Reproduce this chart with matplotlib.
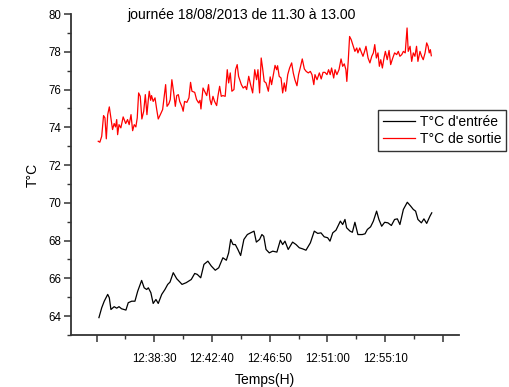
import matplotlib
matplotlib.use("Agg")
import matplotlib.pyplot as plt
from matplotlib.ticker import FixedLocator, MultipleLocator

plt.rcParams["font.family"] = ["Liberation Sans", "DejaVu Sans"]

# time origin of the axis (first major tick), seconds after it for each sample
T0 = "12:34:20"

# T°C d'entrée (black)
t_in = [10, 22, 33, 48, 55, 62, 76, 87, 97, 108, 127, 137, 152, 166, 178, 195,
        206, 217, 224, 235, 245, 257, 267, 282, 296, 308, 318, 332, 347, 361,
        370, 388, 410, 425, 436, 451, 465, 482, 497, 514, 529, 547, 562, 572,
        581, 591, 601, 612, 624, 638, 653, 667, 682, 692, 706, 716, 724, 734,
        748, 763, 781, 796, 806, 816, 830, 849, 864, 878, 893, 907, 926, 943,
        958, 972, 986, 1001, 1011, 1023, 1037, 1056, 1066, 1076, 1083, 1098,
        1108, 1119, 1132, 1151, 1163, 1173, 1187, 1199, 1213, 1223, 1235, 1248,
        1262, 1277, 1291, 1303, 1314, 1329, 1346, 1361, 1372, 1382, 1392, 1407,
        1418, 1430, 1444, 1452]
temp_in = [63.92, 64.44, 64.79, 65.15, 64.97, 64.35, 64.50, 64.42, 64.50, 64.39,
           64.32, 64.71, 64.79, 64.79, 65.32, 65.89, 65.50, 65.41, 65.50, 65.24,
           64.67, 64.88, 64.67, 65.15, 65.41, 65.68, 65.80, 66.30, 65.98, 65.80,
           65.68, 65.77, 65.94, 66.26, 66.21, 66.03, 66.74, 66.91, 66.65, 66.43,
           66.56, 67.09, 66.96, 67.35, 68.06, 67.79, 67.79, 67.53, 67.21, 68.06,
           68.32, 68.41, 68.50, 67.92, 68.06, 68.32, 68.23, 67.53, 67.35, 67.44,
           67.39, 68.02, 67.79, 67.97, 67.53, 67.92, 67.79, 67.62, 67.56, 67.49,
           67.88, 68.50, 68.38, 68.41, 68.20, 68.15, 67.97, 68.41, 68.55, 69.03,
           68.85, 69.12, 68.68, 68.50, 68.44, 68.97, 68.32, 68.32, 68.36, 68.59,
           68.73, 69.03, 69.56, 69.12, 68.76, 68.97, 68.94, 68.80, 69.12, 69.15,
           68.85, 69.65, 70.03, 69.82, 69.65, 69.56, 69.12, 68.94, 69.15, 68.91,
           69.29, 69.47]

# T°C de sortie (red)
t_out = [7, 14, 22, 30, 36, 42, 48, 55, 62, 69, 76, 82, 87, 91, 97, 105, 115,
         126, 134, 141, 149, 156, 163, 170, 176, 182, 189, 196, 204, 211, 218,
         224, 228, 234, 238, 245, 253, 260, 267, 276, 286, 293, 299, 305, 313,
         319, 326, 334, 341, 347, 354, 360, 370, 375, 381, 391, 400, 407, 413,
         425, 433, 442, 448, 452, 461, 468, 477, 485, 491, 497, 504, 511, 520,
         526, 533, 540, 547, 557, 566, 572, 579, 586, 595, 602, 609, 615, 627,
         635, 644, 650, 659, 667, 676, 685, 693, 699, 706, 713, 719, 726, 734,
         744, 752, 758, 767, 773, 780, 784, 791, 799, 806, 813, 819, 828, 836,
         845, 852, 859, 868, 875, 882, 891, 900, 908, 917, 926, 933, 941, 946,
         955, 965, 973, 981, 989, 998, 1005, 1012, 1018, 1027, 1033, 1041, 1050,
         1059, 1066, 1073, 1080, 1084, 1090, 1096, 1103, 1112, 1119, 1127, 1132,
         1140, 1147, 1154, 1161, 1167, 1176, 1184, 1192, 1199, 1205, 1212, 1219,
         1225, 1231, 1238, 1245, 1251, 1259, 1267, 1274, 1283, 1291, 1300, 1307,
         1314, 1322, 1329, 1337, 1345, 1350, 1358, 1365, 1372, 1379, 1386, 1392,
         1401, 1408, 1415, 1423, 1430, 1436, 1441, 1446, 1450]
temp_out = [73.26, 73.21, 73.52, 74.62, 74.50, 73.39, 74.67, 75.08, 74.50, 73.88,
            74.20, 74.02, 74.41, 73.61, 74.14, 73.97, 74.55, 74.20, 74.41, 74.14,
            74.67, 73.82, 74.14, 74.02, 74.50, 75.82, 75.64, 74.44, 74.85, 75.73,
            74.67, 75.47, 75.91, 75.43, 75.68, 75.37, 75.56, 74.97, 74.44, 74.67,
            74.94, 75.64, 76.26, 75.11, 75.25, 75.47, 76.52, 75.82, 75.11, 75.68,
            75.73, 75.37, 75.08, 74.85, 75.37, 75.32, 75.56, 76.38, 75.91, 75.85,
            75.47, 75.29, 75.43, 74.97, 76.08, 75.91, 75.68, 76.26, 75.47, 75.20,
            75.64, 75.37, 75.15, 75.68, 76.17, 75.64, 75.68, 75.64, 77.05, 76.35,
            76.88, 75.91, 76.00, 77.05, 77.32, 76.70, 76.26, 76.08, 76.17, 76.00,
            76.70, 76.26, 75.82, 77.05, 76.52, 77.05, 75.82, 77.67, 77.14, 76.43,
            76.35, 75.91, 76.67, 76.26, 76.88, 77.28, 77.05, 77.26, 76.70, 76.61,
            75.82, 76.35, 75.91, 76.79, 77.14, 77.41, 76.88, 76.52, 76.20, 76.79,
            77.14, 77.62, 77.09, 76.96, 76.88, 76.96, 76.79, 76.26, 76.79, 76.52,
            76.88, 76.56, 76.91, 76.91, 76.79, 77.05, 76.79, 77.14, 76.61, 77.05,
            76.79, 77.05, 77.62, 77.23, 77.36, 77.05, 76.43, 77.49, 78.81, 78.64,
            78.29, 78.02, 78.20, 77.94, 78.20, 77.97, 77.76, 78.02, 78.29, 77.67,
            77.41, 77.76, 77.94, 78.38, 77.67, 77.94, 77.23, 77.58, 77.14, 77.67,
            78.02, 77.58, 78.07, 77.32, 77.67, 77.94, 77.85, 78.02, 77.76, 77.85,
            78.02, 77.94, 79.26, 78.02, 78.29, 77.49, 77.94, 77.76, 78.29, 77.49,
            78.02, 77.76, 77.58, 77.94, 78.47, 78.29, 77.94, 78.11, 77.79]

tick_labels = ["", "12:38:30", "12:42:40", "12:46:50", "12:51:00", "12:55:10", ""]
tick_step = 250  # seconds between major x ticks
y_ticks = [64, 66, 68, 70, 72, 74, 76, 78, 80]

fig = plt.figure(figsize=(5.1, 3.87), dpi=100)
ax = fig.add_axes([71 / 510, 52 / 387, 388 / 510, 321 / 387])

ax.plot(t_in, temp_in, color="black", lw=0.9, label="T°C d'entrée")
ax.plot(t_out, temp_out, color="red", lw=0.9, label="T°C de sortie")

ax.set_xlim(-111, 1570)
ax.set_ylim(63, 80)

ax.xaxis.set_major_locator(FixedLocator([i * tick_step for i in range(len(tick_labels))]))
ax.set_xticklabels(tick_labels)
ax.xaxis.set_minor_locator(MultipleLocator(tick_step / 2))
ax.set_yticks(y_ticks)
ax.yaxis.set_minor_locator(MultipleLocator(1))

for side in ["top", "right"]:
    ax.spines[side].set_visible(False)
for side in ["left", "bottom"]:
    ax.spines[side].set_linewidth(1.3)
    ax.spines[side].set_color("#333333")

ax.tick_params(which="major", direction="out", length=5, width=1.1,
               labelsize=8.3, color="#333333", pad=8)
ax.tick_params(which="minor", direction="out", length=3, width=1.0, color="#333333")
ax.tick_params(axis="y", pad=2)

ax.set_xlabel("Temps(H)", fontsize=10, labelpad=6)
ax.set_ylabel("T°C", fontsize=10, labelpad=6)

fig.text(242 / 510, 1 - 15 / 387, "journée 18/08/2013 de 11.30 à 13.00",
         ha="center", va="center", fontsize=10.1)

leg = fig.legend(loc="upper left", bbox_to_anchor=(378 / 510, 1 - 110 / 387),
                 fontsize=10, handlelength=2.3, handletextpad=0.35,
                 labelspacing=0.25, borderpad=0.35, borderaxespad=0,
                 fancybox=False, framealpha=1)
leg.get_frame().set_edgecolor("#333333")
leg.get_frame().set_linewidth(1.0)

fig.savefig("out.png", dpi=100)
